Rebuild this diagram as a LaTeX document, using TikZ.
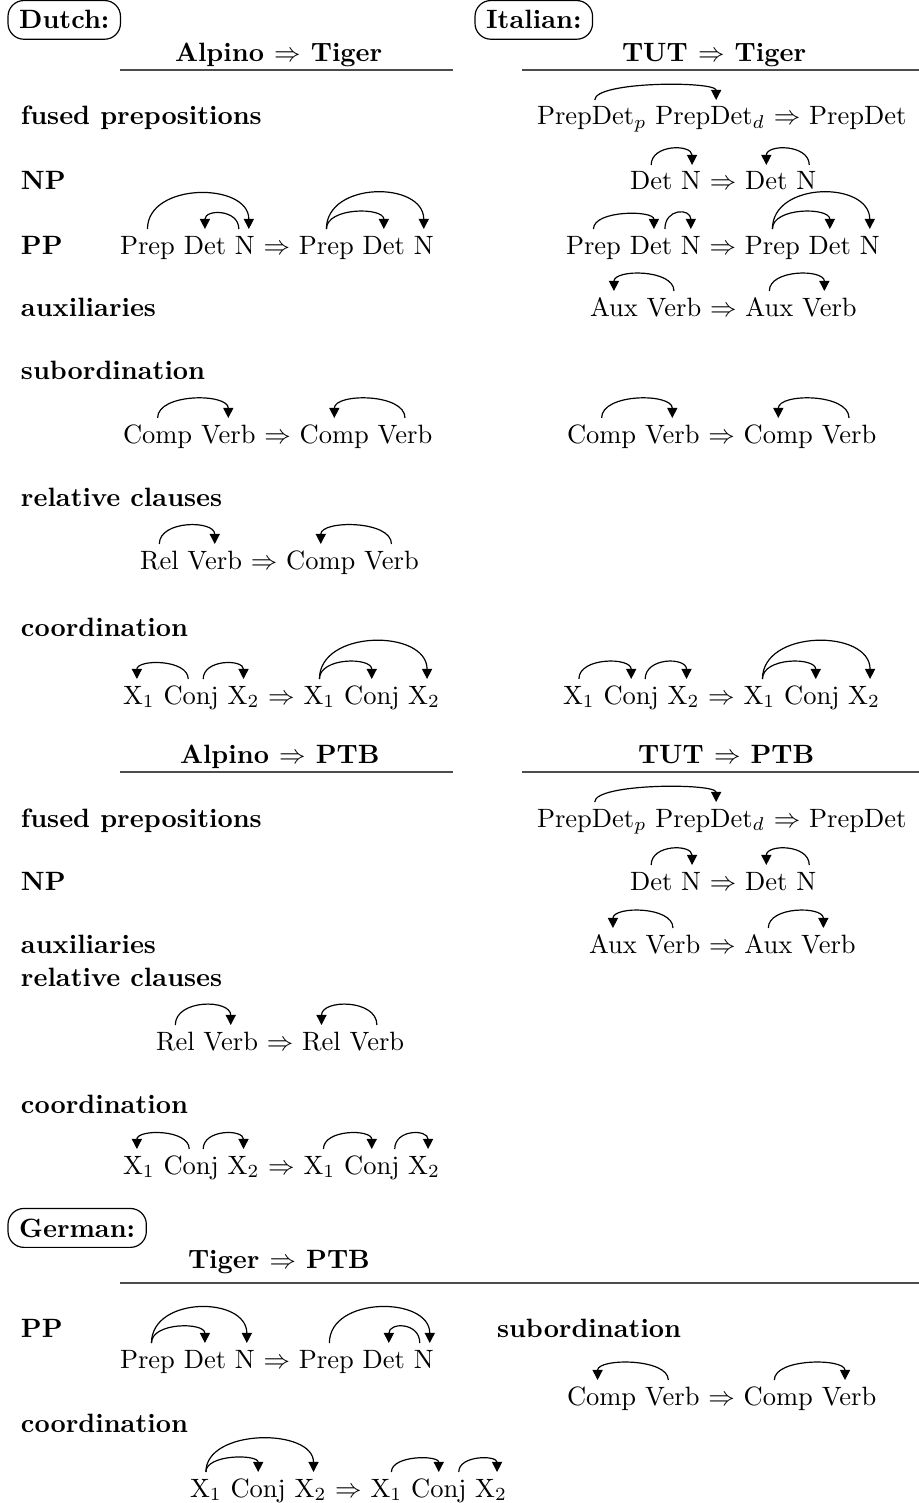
\documentclass[tikz,border=0pt]{standalone}
\usetikzlibrary{arrows.meta,calc}
\tikzset{
  wd/.style={inner sep=0pt, outer sep=0pt, anchor=base west},
  lbl/.style={inner sep=0pt, outer sep=0pt, anchor=base west, font=\bfseries},
  hdr/.style={inner sep=0pt, outer sep=0pt, anchor=base west, font=\bfseries},
  langbox/.style={draw, rounded corners=6pt, inner xsep=4.2pt, inner ysep=3.8pt, outer sep=0pt, anchor=base west, font=\bfseries, line width=0.45pt},
  rulel/.style={draw=black!70, line width=0.7pt},
  deparc/.style={-{Triangle[width=3.8pt,length=3.8pt]}, line width=0.45pt},
}
\newcommand\wnext[3]{\node[wd] (#1) at ([xshift=3.33pt]#2.base east) {#3};}
\newcommand\darc[5]{\draw[deparc] ($(#1.base)+(#2,-25)$) .. controls +(0,-#5) and +(0,-#5) .. ($(#3.base)+(#4,-25)$);}
\begin{document}
\begin{tikzpicture}[x=0.37736pt, y=-0.37736pt]
\useasboundingbox (0,0) rectangle (919,1503);

% ---------- headers ----------
\node[langbox] (dutch) at (8,29) {Dutch:};
\node[langbox] (italian) at (475,29) {Italian:};
\node[hdr] (h1) at (175,62) {Alpino $\Rightarrow$ Tiger};
\node[hdr] (h2) at (622,62) {TUT $\Rightarrow$ Tiger};
\draw[rulel] (120,70) -- (453,70);
\draw[rulel] (522,70) -- (919,70);

% ---------- labels (Tiger) ----------
\node[lbl] (l1) at (21,125) {fused prepositions};
\node[lbl] (l2) at (21,190) {NP};
\node[lbl] (l3) at (21,254) {PP};
\node[lbl] (l4) at (21,316) {auxiliaries};
\node[lbl] (l5) at (21,379) {subordination};
\node[lbl] (l6) at (21,506) {relative clauses};
\node[lbl] (l7) at (21,636) {coordination};

% Italian PrepDet
\node[wd] (ia1) at (537,125) {PrepDet$_p$};
\wnext{ia2}{ia1}{PrepDet$_d$}
\wnext{ia3}{ia2}{$\Rightarrow$}
\wnext{ia4}{ia3}{PrepDet}
\darc{ia1}{3}{ia2}{6}{19}

% Italian Det N
\node[wd] (ib1) at (630,190) {Det};
\wnext{ib2}{ib1}{N}
\wnext{ib3}{ib2}{$\Rightarrow$}
\wnext{ib4}{ib3}{Det}
\wnext{ib5}{ib4}{N}
\darc{ib1}{0}{ib2}{1}{21}
\darc{ib5}{3}{ib4}{0}{21}

% Italian PP
\node[wd] (ic1) at (566,254) {Prep};
\wnext{ic2}{ic1}{Det}
\wnext{ic3}{ic2}{N}
\wnext{ic4}{ic3}{$\Rightarrow$}
\wnext{ic5}{ic4}{Prep}
\wnext{ic6}{ic5}{Det}
\wnext{ic7}{ic6}{N}
\darc{ic1}{0}{ic2}{3}{19}
\darc{ic2}{14}{ic3}{0}{21}
\darc{ic5}{0}{ic6}{0}{22}
\darc{ic5}{0}{ic7}{0}{48}

% Italian Aux
\node[wd] (id1) at (590,316) {Aux};
\wnext{id2}{id1}{Verb}
\wnext{id3}{id2}{$\Rightarrow$}
\wnext{id4}{id3}{Aux}
\wnext{id5}{id4}{Verb}
\darc{id2}{0}{id1}{0}{22}
\darc{id4}{0}{id5}{-5}{22}

% Dutch PP
\node[wd] (da1) at (120,254) {Prep};
\wnext{da2}{da1}{Det}
\wnext{da3}{da2}{N}
\wnext{da4}{da3}{$\Rightarrow$}
\wnext{da5}{da4}{Prep}
\wnext{da6}{da5}{Det}
\wnext{da7}{da6}{N}
\darc{da1}{0}{da3}{4}{47}
\darc{da3}{-6}{da2}{0}{20}
\darc{da5}{0}{da6}{0}{22}
\darc{da5}{0}{da7}{0}{48}

% Dutch subordination
\node[wd] (db1) at (123,443) {Comp};
\wnext{db2}{db1}{Verb}
\wnext{db3}{db2}{$\Rightarrow$}
\wnext{db4}{db3}{Comp}
\wnext{db5}{db4}{Verb}
\darc{db1}{0}{db2}{0}{25}
\darc{db5}{0}{db4}{0}{25}

% Italian subordination
\node[wd] (ie1) at (567,443) {Comp};
\wnext{ie2}{ie1}{Verb}
\wnext{ie3}{ie2}{$\Rightarrow$}
\wnext{ie4}{ie3}{Comp}
\wnext{ie5}{ie4}{Verb}
\darc{ie1}{0}{ie2}{0}{25}
\darc{ie5}{0}{ie4}{0}{25}

% Dutch relative clauses
\node[wd] (dc1) at (140,569) {Rel};
\wnext{dc2}{dc1}{Verb}
\wnext{dc3}{dc2}{$\Rightarrow$}
\wnext{dc4}{dc3}{Comp}
\wnext{dc5}{dc4}{Verb}
\darc{dc1}{0}{dc2}{0}{24}
\darc{dc5}{0}{dc4}{0}{24}

% Dutch coordination
\node[wd] (dd1) at (123,704) {X$_1$};
\wnext{dd2}{dd1}{Conj}
\wnext{dd3}{dd2}{X$_2$}
\wnext{dd4}{dd3}{$\Rightarrow$}
\wnext{dd5}{dd4}{X$_1$}
\wnext{dd6}{dd5}{Conj}
\wnext{dd7}{dd6}{X$_2$}
\darc{dd2}{-3}{dd1}{-2}{20}
\darc{dd2}{12}{dd3}{0}{20}
\darc{dd5}{0}{dd6}{0}{22}
\darc{dd5}{0}{dd7}{3}{50}

% Italian coordination
\node[wd] (ig1) at (563,704) {X$_1$};
\wnext{ig2}{ig1}{Conj}
\wnext{ig3}{ig2}{X$_2$}
\wnext{ig4}{ig3}{$\Rightarrow$}
\wnext{ig5}{ig4}{X$_1$}
\wnext{ig6}{ig5}{Conj}
\wnext{ig7}{ig6}{X$_2$}
\darc{ig1}{0}{ig2}{0}{22}
\darc{ig2}{14}{ig3}{3}{22}
\darc{ig5}{3}{ig6}{4}{22}
\darc{ig5}{3}{ig7}{6}{50}

% ---------- PTB section ----------
\node[hdr] (h3) at (180,763) {Alpino $\Rightarrow$ PTB};
\node[hdr] (h4) at (638,763) {TUT $\Rightarrow$ PTB};
\draw[rulel] (120,772) -- (453,772);
\draw[rulel] (522,772) -- (919,772);

\node[lbl] (m1) at (21,827) {fused prepositions};
\node[lbl] (m2) at (21,890) {NP};
\node[lbl] (m3) at (21,953) {auxiliaries};
\node[lbl] (m4) at (21,986) {relative clauses};
\node[lbl] (m5) at (21,1113) {coordination};

\node[wd] (ja1) at (537,827) {PrepDet$_p$};
\wnext{ja2}{ja1}{PrepDet$_d$}
\wnext{ja3}{ja2}{$\Rightarrow$}
\wnext{ja4}{ja3}{PrepDet}
\darc{ja1}{3}{ja2}{6}{19}

\node[wd] (jb1) at (630,890) {Det};
\wnext{jb2}{jb1}{N}
\wnext{jb3}{jb2}{$\Rightarrow$}
\wnext{jb4}{jb3}{Det}
\wnext{jb5}{jb4}{N}
\darc{jb1}{0}{jb2}{1}{21}
\darc{jb5}{3}{jb4}{0}{21}

\node[wd] (jc1) at (589,953) {Aux};
\wnext{jc2}{jc1}{Verb}
\wnext{jc3}{jc2}{$\Rightarrow$}
\wnext{jc4}{jc3}{Aux}
\wnext{jc5}{jc4}{Verb}
\darc{jc2}{0}{jc1}{0}{22}
\darc{jc4}{0}{jc5}{-5}{22}

\node[wd] (ka1) at (156,1050) {Rel};
\wnext{ka2}{ka1}{Verb}
\wnext{ka3}{ka2}{$\Rightarrow$}
\wnext{ka4}{ka3}{Rel}
\wnext{ka5}{ka4}{Verb}
\darc{ka1}{0}{ka2}{0}{26}
\darc{ka5}{0}{ka4}{0}{26}

\node[wd] (kb1) at (123,1174) {X$_1$};
\wnext{kb2}{kb1}{Conj}
\wnext{kb3}{kb2}{X$_2$}
\wnext{kb4}{kb3}{$\Rightarrow$}
\wnext{kb5}{kb4}{X$_1$}
\wnext{kb6}{kb5}{Conj}
\wnext{kb7}{kb6}{X$_2$}
\darc{kb2}{-2}{kb1}{-2}{20}
\darc{kb2}{12}{kb3}{0}{20}
\darc{kb5}{4}{kb6}{0}{20}
\darc{kb6}{23}{kb7}{4}{20}

% ---------- German ----------
\node[langbox] (german) at (8,1237) {German:};
\node[hdr] (h5) at (188,1268) {Tiger $\Rightarrow$ PTB};
\draw[rulel] (120,1283) -- (919,1283);

\node[lbl] (n1) at (21,1337) {PP};
\node[lbl] (n2) at (497,1337) {subordination};
\node[lbl] (n3) at (21,1432) {coordination};

\node[wd] (ga1) at (120,1368) {Prep};
\wnext{ga2}{ga1}{Det}
\wnext{ga3}{ga2}{N}
\wnext{ga4}{ga3}{$\Rightarrow$}
\wnext{ga5}{ga4}{Prep}
\wnext{ga6}{ga5}{Det}
\wnext{ga7}{ga6}{N}
\darc{ga1}{4}{ga2}{0}{21}
\darc{ga1}{4}{ga3}{2}{47}
\darc{ga5}{3}{ga7}{6}{47}
\darc{ga7}{-4}{ga6}{5}{21}

\node[wd] (gb1) at (567,1405) {Comp};
\wnext{gb2}{gb1}{Verb}
\wnext{gb3}{gb2}{$\Rightarrow$}
\wnext{gb4}{gb3}{Comp}
\wnext{gb5}{gb4}{Verb}
\darc{gb2}{-4}{gb1}{-4}{22}
\darc{gb4}{-4}{gb5}{-4}{22}

\node[wd] (gc1) at (190,1497) {X$_1$};
\wnext{gc2}{gc1}{Conj}
\wnext{gc3}{gc2}{X$_2$}
\wnext{gc4}{gc3}{$\Rightarrow$}
\wnext{gc5}{gc4}{X$_1$}
\wnext{gc6}{gc5}{Conj}
\wnext{gc7}{gc6}{X$_2$}
\darc{gc1}{0}{gc2}{0}{18}
\darc{gc1}{0}{gc3}{3}{44}
\darc{gc5}{5}{gc6}{0}{17}
\darc{gc6}{20}{gc7}{6}{17}
\end{tikzpicture}
\end{document}
